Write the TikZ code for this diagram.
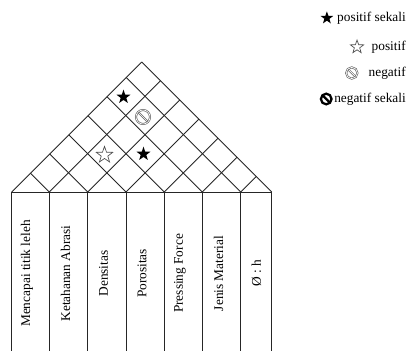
\documentclass[tikz,border=0pt]{standalone}
\usepackage{fontspec}
\setmainfont{Liberation Serif}
\usetikzlibrary{shapes.geometric,positioning}

\begin{document}
\begin{tikzpicture}[x=0.75pt, y=-0.75pt,
    grid/.style={draw=black!85, line width=0.65pt},
    crit/.style={rotate=90, inner sep=0pt, font=\normalsize},
    legtext/.style={anchor=east, inner sep=0pt, font=\normalsize},
    starfull/.style={star, star points=5, star point ratio=2.5, fill=black,
                     inner sep=0pt, minimum size=11pt},
    starhollow/.style={star, star points=5, star point ratio=2.5, draw=black!70,
                       line width=0.5pt, fill=white, inner sep=0pt, minimum size=13pt},
    neg/.style={circle, draw=black!60, double=white, double distance=0.5pt,
                line width=0.5pt, inner sep=0pt, minimum size=9.5pt,
                path picture={\draw[black!60, double=white, double distance=0.5pt, line width=0.5pt]
                  (path picture bounding box.north west) -- (path picture bounding box.south east);}},
    negkuat/.style={circle, draw=black, line width=1.7pt, inner sep=0pt, minimum size=7.5pt,
                path picture={\draw[line width=1.7pt]
                  (path picture bounding box.north west) -- (path picture bounding box.south east);}},
]
\useasboundingbox (0,0) rectangle (409,351);

% kolom dan atap
\foreach \x [count=\i from 0] in {11.7,49.3,87.7,126,164.3,202.3,240.7,271.7} {
    \coordinate (b\i) at (\x,192);
    \coordinate (t\i) at (\x,351);
    \pgfmathsetmacro\ur{(271.7-\x)/2}
    \pgfmathsetmacro\ul{(\x-11.7)/2}
    \draw[grid] (b\i) -- ++(\ur,-\ur);
    \draw[grid] (b\i) -- ++(-\ul,-\ul);
    \draw[grid] (b\i) -- (t\i);
}
\draw[grid] (b0) -- (b7);

% karakteristik
\node[crit] (k1) at (27,273.5) {Mencapai titik leleh};
\node[crit] (k2) at (65.5,273.5) {Ketahanan Abrasi};
\node[crit] (k3) at (103.5,273.5) {Densitas};
\node[crit] (k4) at (142,273.5) {Porositas};
\node[crit] (k5) at (180,273.5) {Pressing Force};
\node[crit] (k6) at (218.5,273.5) {Jenis Material};
\node[crit] (k7) at (256.5,273.5) {Ø : h};

% korelasi
\node[starfull] (r16) at (123.5,97) {};
\node[neg, minimum size=10.5pt] (r26) at (143,117) {};
\node[starhollow] (r24) at (104.5,155) {};
\node[starfull] (r35) at (143.5,154) {};

% legenda
\node[legtext] (lg1) at (406,18) {positif sekali};
\node[legtext] (lg2) at (406,47) {positif};
\node[legtext] (lg3) at (406,73) {negatif};
\node[legtext] (lg4) at (406,99) {negatif sekali};

\node[starfull, minimum size=10pt, left=4.5pt of lg1] (s1) {};
\node[starhollow, minimum size=10.5pt, left=7.5pt of lg2] (s2) {};
\node[neg, minimum size=8.5pt, left=8pt of lg3] (s3) {};
\node[negkuat, minimum size=8pt, left=1pt of lg4] (s4) {};

\end{tikzpicture}
\end{document}
